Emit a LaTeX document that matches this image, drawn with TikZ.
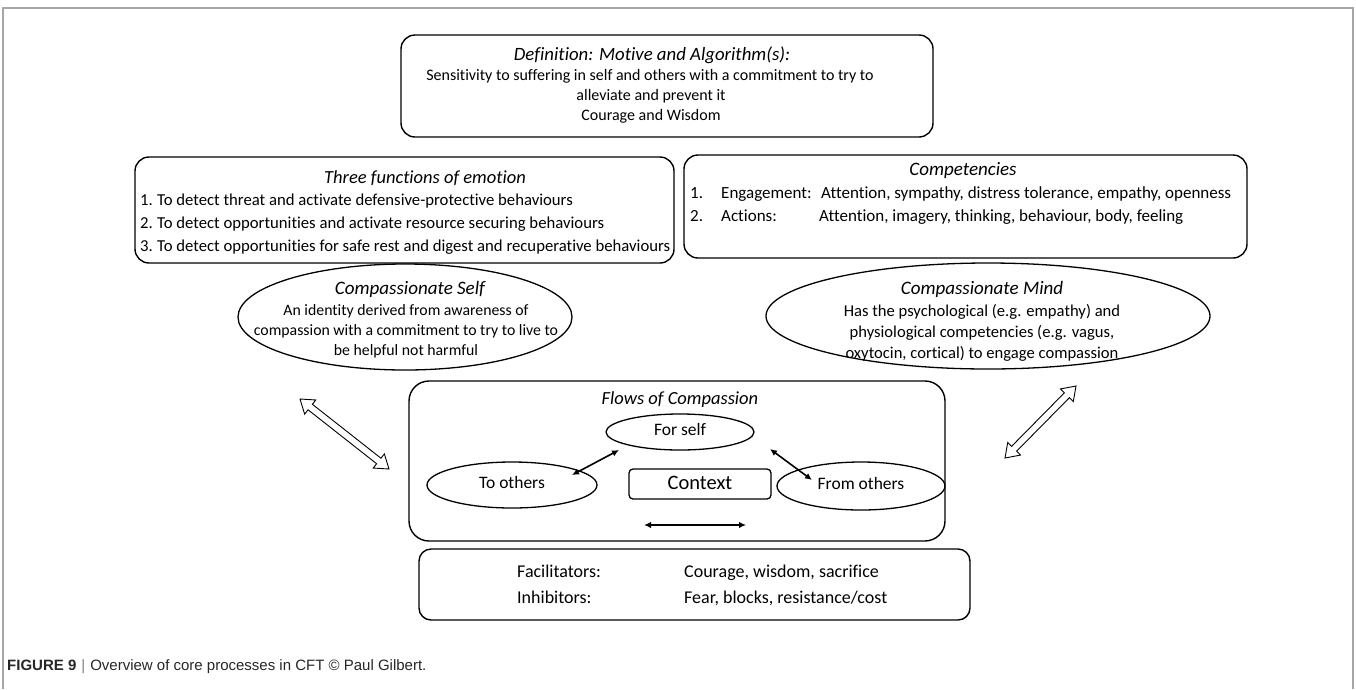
\documentclass[tikz,border=0pt]{standalone}
\usepackage{fontspec}
\setmainfont{Carlito}[Ligatures=NoCommon, Contextuals=NoAlternate]
\newfontfamily\capfont{Liberation Sans}
\usetikzlibrary{shapes.geometric,arrows.meta,calc}
\newcommand{\fs}[1]{\fontsize{#1}{#1}\selectfont}
\begin{document}
\begin{tikzpicture}[x=1pt,y=-1pt,
  box/.style={draw, line width=1.4pt, rounded corners=14pt, inner sep=0},
  oval/.style={draw, ellipse, line width=1.3pt, inner sep=0},
  txt/.style={inner sep=0, font=\fs{16}, text height=11pt, text depth=3.5pt},
  ttl/.style={inner sep=0, font=\fs{18.5}\itshape, text height=12.5pt, text depth=4pt},
  flow/.style={line width=1.6pt, {Latex[length=7pt,width=6.5pt]}-{Latex[length=7pt,width=6.5pt]}},
  hollow/.style={draw, line width=0.9pt, fill=white, line join=miter}]
\useasboundingbox (0,0) rectangle (1356,689);
\draw[gray!70, line width=1.5pt] (3,689) -- (3,8) -- (1353,8) -- (1353,689);

% Definition
\node[box, minimum width=532pt, minimum height=102pt] (def) at (667,86) {};
\node[ttl, font=\fs{18.8}\itshape] (defT) at (652,56) {Definition: Motive and Algorithm(s):};
\node[txt] (def1) at (650,77) {Sensitivity to suffering in self and others with a commitment to try to};
\node[txt] (def2) at (651,97) {alleviate and prevent it};
\node[txt] (def3) at (651,117) {Courage and Wisdom};

% Three functions
\node[box, minimum width=539pt, minimum height=106pt] (tf) at (404.5,210) {};
\node[ttl] (tfT) at (425,179) {Three functions of emotion};
\begin{scope}[every node/.append style={txt, font=\fs{16.7}, anchor=west}]
\node (tfn1) at (140,202) {1.};
\node (tfi1) at (157,202) {To detect threat and activate defensive-protective behaviours};
\node (tfn2) at (140,225) {2.};
\node (tfi2) at (157,225) {To detect opportunities and activate resource securing behaviours};
\node (tfn3) at (140,248) {3.};
\node (tfi3) at (157,248) {To detect opportunities for safe rest and digest and recuperative behaviours};
\end{scope}

% Competencies
\node[box, minimum width=563pt, minimum height=103pt] (cp) at (965.5,206.5) {};
\node[ttl, font=\fs{19}\itshape] (cpT) at (963,171) {Competencies};
\begin{scope}[every node/.append style={txt, font=\fs{17}, anchor=west}]
\node (cpn1) at (690,195) {1.};
\node (cpl1) at (721,195) {Engagement:};
\node (cpi1) at (821,195) {Attention, sympathy, distress tolerance, empathy, openness};
\node (cpn2) at (690,218) {2.};
\node (cpl2) at (721,218) {Actions:};
\node (cpi2) at (819,218) {Attention, imagery, thinking, behaviour, body, feeling};
\end{scope}

% Compassionate Self
\node[oval, minimum width=334pt, minimum height=106pt] (cs) at (405,317) {};
\node[ttl, font=\fs{19}\itshape] (csT) at (410,290) {Compassionate Self};
\node[txt, font=\fs{15.8}] (cs1) at (406,312) {An identity derived from awareness of};
\node[txt, font=\fs{15.8}] (cs2) at (406,332) {compassion with a commitment to try to live to};
\node[txt, font=\fs{15.8}] (cs3) at (406,352) {be helpful not harmful};

% Compassionate Mind
\node[oval, minimum width=444pt, minimum height=106pt] (cm) at (988,316) {};
\node[ttl, font=\fs{19}\itshape] (cmT) at (982,290) {Compassionate Mind};
\node[txt, font=\fs{16.6}] (cm1) at (982,313) {Has the psychological (e.g. empathy) and};
\node[txt, font=\fs{16.6}] (cm2) at (982,334) {physiological competencies (e.g. vagus,};
\node[txt, font=\fs{16.6}] (cm3) at (982,355) {oxytocin, cortical) to engage compassion};

% Flows of compassion
\node[draw, line width=1.4pt, rounded corners=20pt, minimum width=536pt, minimum height=160pt, inner sep=0] (fl) at (677,461) {};
\node[ttl] (flT) at (680,400) {Flows of Compassion};
\node[oval, minimum width=148pt, minimum height=36pt] (fself) at (680,432) {};
\node[txt, font=\fs{17.5}] at (fself) {For self};
\node[oval, minimum width=170pt, minimum height=46pt] (toth) at (512,485) {};
\node[txt, font=\fs{17.5}] at (toth) {To others};
\node[oval, minimum width=168pt, minimum height=48pt] (foth) at (861,486) {};
\node[txt, font=\fs{17.5}] at (foth) {From others};
\node[draw, line width=1.3pt, rounded corners=4pt, minimum width=142pt, minimum height=30pt, inner sep=0] (ctx) at (700,484) {};
\node[inner sep=0, font=\fs{20.5}, text height=14pt, text depth=4pt] at (ctx) {Context};

\coordinate (a1) at (572,475); \coordinate (a2) at (619,450);
\coordinate (b1) at (770,449); \coordinate (b2) at (812,480);
\coordinate (c1) at (644,525); \coordinate (c2) at (746,525);
\draw[flow] (a1) -- (a2);
\draw[flow] (b1) -- (b2);
\draw[flow] (c1) -- (c2);

% Facilitators
\node[draw, line width=1.4pt, rounded corners=12pt, minimum width=551pt, minimum height=71pt, inner sep=0] (fi) at (694.5,584.5) {};
\begin{scope}[every node/.append style={txt, font=\fs{18}, anchor=west}]
\node (fiL1) at (517,574) {Facilitators:};
\node (fiR1) at (684,574) {Courage, wisdom, sacrifice};
\node (fiL2) at (517,600) {Inhibitors:};
\node (fiR2) at (684,600) {Fear, blocks, resistance/cost};
\end{scope}

% hollow double arrows
\coordinate (p1) at (300,399); \coordinate (p2) at (389,469);
\coordinate (q1) at (1005,458); \coordinate (q2) at (1076,386);
\foreach \A/\B in {p1/p2, q1/q2}{
  \draw[hollow]
    (\A)
    -- ($($(\A)!13pt!(\B)$)!9pt!90:(\B)$)
    -- ($($(\A)!13pt!(\B)$)!3.5pt!90:(\B)$)
    -- ($($(\B)!13pt!(\A)$)!3.5pt!-90:(\A)$)
    -- ($($(\B)!13pt!(\A)$)!9pt!-90:(\A)$)
    -- (\B)
    -- ($($(\B)!13pt!(\A)$)!9pt!90:(\A)$)
    -- ($($(\B)!13pt!(\A)$)!3.5pt!90:(\A)$)
    -- ($($(\A)!13pt!(\B)$)!3.5pt!-90:(\B)$)
    -- ($($(\A)!13pt!(\B)$)!9pt!-90:(\B)$)
    -- cycle;
}

% caption
\node[inner sep=0, anchor=west, font=\capfont\fs{15}, text=black!85] (cap) at (7,667)
  {{\bfseries FIGURE 9}\hspace{5pt}\textcolor{gray}{|}\hspace{5pt}Overview of core processes in CFT \textcopyright\ Paul Gilbert.};
\end{tikzpicture}
\end{document}
